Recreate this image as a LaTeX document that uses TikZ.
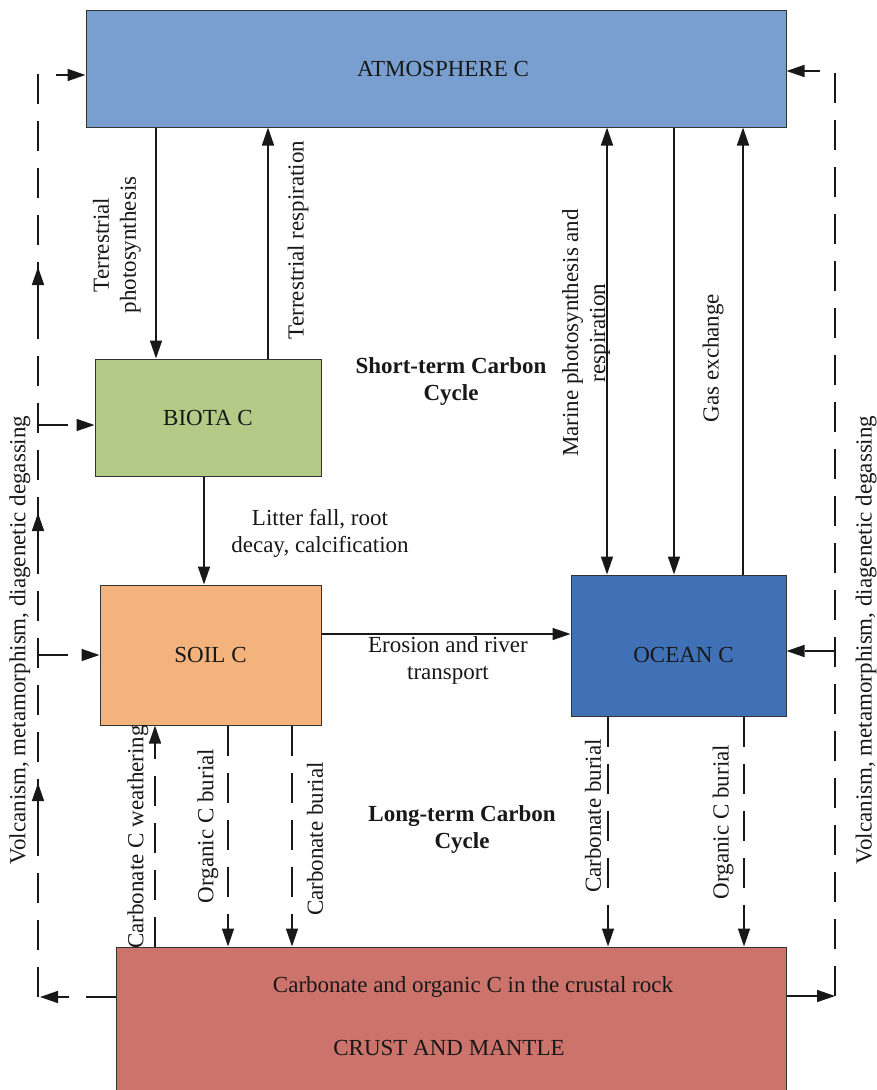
\documentclass[tikz,border=0pt]{standalone}
\usepackage{fontspec}
\setmainfont{Liberation Serif}
\usetikzlibrary{arrows.meta}
\definecolor{atmC}{RGB}{121,159,208}
\definecolor{bioC}{RGB}{180,203,136}
\definecolor{soilC}{RGB}{244,178,125}
\definecolor{oceanC}{RGB}{64,113,183}
\definecolor{crustC}{RGB}{204,115,107}
\definecolor{ink}{RGB}{24,24,24}
\begin{document}
\begin{tikzpicture}[x=1pt,y=-1pt,
  every node/.style={font=\fontsize{23}{27}\selectfont, text=ink},
  box/.style={draw=black!80, line width=1pt, inner sep=0pt},
  tip/.style={-{Triangle[length=18pt,width=12pt]}},
  flow/.style={line width=1.5pt, draw=ink, tip},
  both/.style={line width=1.5pt, draw=ink, {Triangle[length=18pt,width=12pt]}-{Triangle[length=18pt,width=12pt]}},
  dl/.style={line width=1.5pt, draw=ink, dash pattern=on 30pt off 17pt},
  dflow/.style={dl, tip},
  lbl/.style={inner sep=0pt, align=center},
  vlbl/.style={inner sep=0pt, align=center, rotate=90},
  bold/.style={font=\fontsize{23}{27}\selectfont\bfseries}
  ]
\clip (0,0) rectangle (876,1090);
\fill[white] (0,0) rectangle (876,1090);

% carbon reservoirs
\node[box, fill=atmC, minimum width=700pt, minimum height=117pt,
  label={[xshift=7pt]center:ATMOSPHERE C}] (atm) at (436,68.5) {};
\node[box, fill=bioC, minimum width=226pt, minimum height=117pt] (bio) at (208,417.5) {BIOTA C};
\node[box, fill=soilC, minimum width=221pt, minimum height=140pt] (soil) at (210.5,655) {SOIL C};
\node[box, fill=oceanC, minimum width=215pt, minimum height=141pt,
  label={[xshift=5pt,yshift=-9pt]center:OCEAN C}] (ocean) at (678.5,645.5) {};
\node[box, fill=crustC, minimum width=670pt, minimum height=173pt] (crust) at (451,1033.5) {};
\node (crustA) at (473,987) {Carbonate and organic C in the crustal rock};
\node (crustB) at (449,1048) {CRUST AND MANTLE};

% connector positions
\coordinate (xPh) at (156,0);
\coordinate (xRe) at (268,0);
\coordinate (xLit) at (204,0);
\coordinate (xMar) at (607,0);
\coordinate (xGd) at (674,0);
\coordinate (xGu) at (743,0);
\coordinate (xCw) at (155,0);
\coordinate (xOb) at (228,0);
\coordinate (xCb) at (292,0);
\coordinate (xOcb) at (608,0);
\coordinate (xOob) at (744,0);
\coordinate (yEr) at (0,634);

% short-term fluxes
\draw[flow] (atm.south -| xPh) -- (bio.north -| xPh);
\draw[flow] (bio.north -| xRe) -- (atm.south -| xRe);
\draw[flow] (bio.south -| xLit) -- (soil.north -| xLit);
\draw[flow] (soil.east |- yEr) -- (ocean.west |- yEr);
\draw[both] (atm.south -| xMar) -- (ocean.north -| xMar);
\draw[flow] (atm.south -| xGd) -- (ocean.north -| xGd);
\draw[flow] (ocean.north -| xGu) -- (atm.south -| xGu);

% long-term fluxes
\draw[dflow] (crust.north -| xCw) -- (soil.south -| xCw);
\draw[dflow] (soil.south -| xOb) -- (crust.north -| xOb);
\draw[dflow] (soil.south -| xCb) -- (crust.north -| xCb);
\draw[dflow] (ocean.south -| xOcb) -- (crust.north -| xOcb);
\draw[dflow] (ocean.south -| xOob) -- (crust.north -| xOob);

% degassing loop, left
\coordinate (Lb) at (38,997);
\coordinate (Lt) at (38,75);
\coordinate (Lbio) at (38,425);
\coordinate (Lsoil) at (38,655);
\draw[dflow] (crust.west |- Lb) -- ([xshift=2pt]Lb);
\draw[dflow] (Lb) -- (Lt) -- (atm.west |- Lt);
\draw[dflow] (Lbio) -- (bio.west |- Lbio);
\draw[dflow] (Lsoil) -- (soil.west |- Lsoil);
\coordinate (m1a) at (38,310); \coordinate (m1b) at (38,267);
\coordinate (m2a) at (38,556); \coordinate (m2b) at (38,513);
\coordinate (m3a) at (38,826); \coordinate (m3b) at (38,783);
\draw[flow] (m1a) -- (m1b);
\draw[flow] (m2a) -- (m2b);
\draw[flow] (m3a) -- (m3b);

% degassing loop, right
\coordinate (Rb) at (835,996);
\coordinate (Rt) at (835,71);
\coordinate (Roc) at (835,651);
\draw[dflow] (crust.east |- Rb) -- (Rb);
\draw[dflow] (Rb) -- (Rt) -- (atm.east |- Rt);
\draw[dflow] (Roc) -- (ocean.east |- Roc);

% flux labels
\node[vlbl] (lPh) at (117,245) {Terrestrial\\photosynthesis};
\node[vlbl] (lRe) at (298,240) {Terrestrial respiration};
\node[lbl] (lLit) at (320,533.5) {Litter fall, root\\decay, calcification};
\node[lbl] (lEr) at (448,660) {Erosion and river\\transport};
\node[vlbl] (lMar) at (586,333) {Marine photosynthesis and\\respiration};
\node[vlbl] (lGas) at (713,358) {Gas exchange};
\node[lbl, bold] (short) at (451,381) {Short-term Carbon\\Cycle};
\node[lbl, bold] (long) at (462,829) {Long-term Carbon\\Cycle};
\node[vlbl] (lCw) at (138,837) {Carbonate C weathering};
\node[vlbl] (lOb) at (208,826) {Organic C burial};
\node[vlbl] (lCb) at (315,839) {Carbonate burial};
\node[vlbl] (lOcb) at (593,816) {Carbonate burial};
\node[vlbl] (lOob) at (723,822) {Organic C burial};
\node[vlbl] (lVl) at (20,640) {Volcanism, metamorphism, diagenetic degassing};
\node[vlbl] (lVr) at (866,640) {Volcanism, metamorphism, diagenetic degassing};
\end{tikzpicture}
\end{document}
